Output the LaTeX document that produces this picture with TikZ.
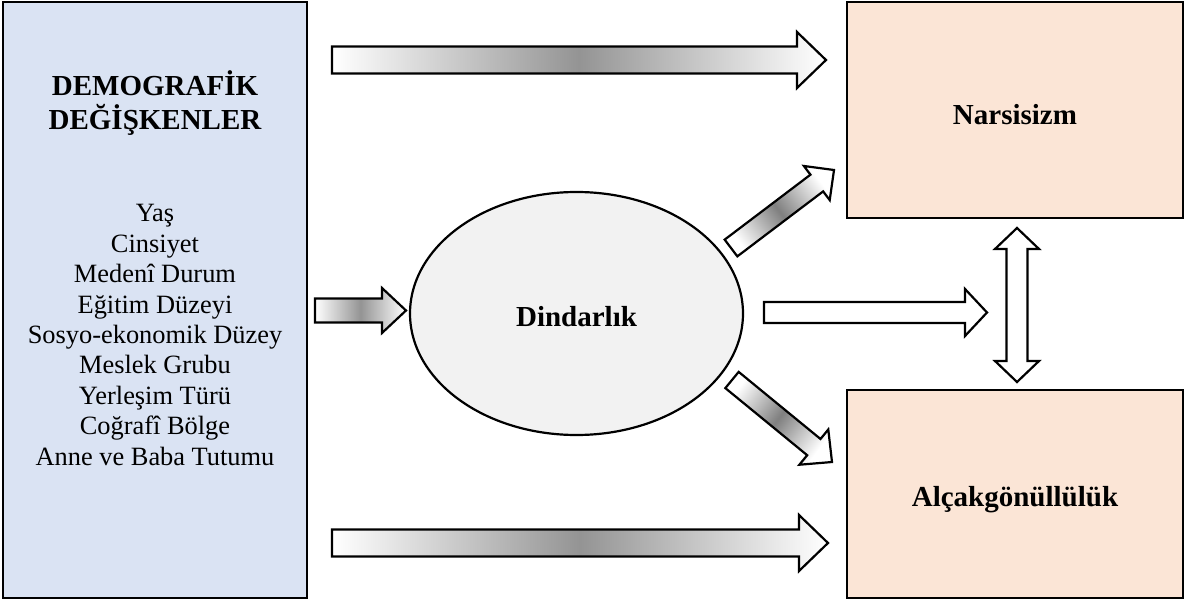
\documentclass[tikz,border=0pt]{standalone}
\usepackage{fontspec}
\setmainfont{Liberation Serif}
\usetikzlibrary{calc,shapes.geometric}
\definecolor{demoblue}{HTML}{DAE3F3}
\definecolor{peach}{HTML}{FBE5D6}
\definecolor{ellgray}{HTML}{F2F2F2}
% block arrow: #1 style, #2 tail, #3 tip, #4 half body, #5 half head, #6 head length
\newcommand\blkarrow[6]{%
  \coordinate (ba) at ($(#3)!#6!(#2)$);
  \path[#1] ($(#2)!#4!90:(#3)$) -- ($(ba)!#4!90:(#3)$) -- ($(ba)!#5!90:(#3)$) -- (#3)
    -- ($(ba)!#5!-90:(#3)$) -- ($(ba)!#4!-90:(#3)$) -- ($(#2)!#4!-90:(#3)$) -- cycle;}
% double block arrow: #1 style, #2 tip A, #3 tip B, #4 half body, #5 half head, #6 head length
\newcommand\dblarrow[6]{%
  \coordinate (bA) at ($(#2)!#6!(#3)$);
  \coordinate (bB) at ($(#3)!#6!(#2)$);
  \path[#1] (#2) -- ($(bA)!#5!90:(#2)$) -- ($(bA)!#4!90:(#2)$) -- ($(bB)!#4!-90:(#3)$)
    -- ($(bB)!#5!-90:(#3)$) -- (#3) -- ($(bB)!#5!90:(#3)$) -- ($(bB)!#4!90:(#3)$)
    -- ($(bA)!#4!-90:(#2)$) -- ($(bA)!#5!-90:(#2)$) -- cycle;}
\tikzset{
  box/.style={draw=black, line width=1.1pt, rectangle, inner sep=0pt},
  boldlab/.style={font=\fontsize{14.5}{17}\selectfont\bfseries},
  listlab/.style={font=\fontsize{13.2}{15.2}\selectfont},
  arrowline/.style={draw=black, line width=1.1pt, line join=miter},
  gradh/.style={arrowline, left color=white, right color=white, middle color=black!42},
  gradup/.style={arrowline, left color=white, right color=white, middle color=black!50, shading angle=-53},
  graddown/.style={arrowline, left color=white, right color=white, middle color=black!50, shading angle=53},
  plainarrow/.style={arrowline, fill=white}
}
\begin{document}
\begin{tikzpicture}[x=0.5pt, y=-0.5pt]
\useasboundingbox (0,0) rectangle (1188,604);
% boxes
\node[box, fill=demoblue, minimum width=152pt, minimum height=298pt] (demo) at (155,300) {};
\node[boldlab, align=center, anchor=base] (title) at (155,130) {DEMOGRAFİK\\DEĞİŞKENLER};
\node[listlab, align=center, anchor=base] (vars) at (155,465) {Yaş\\Cinsiyet\\Medenî Durum\\Eğitim Düzeyi\\Sosyo-ekonomik Düzey\\Meslek Grubu\\Yerleşim Türü\\Coğrafî Bölge\\Anne ve Baba Tutumu};
\node[box, fill=peach, minimum width=168pt, minimum height=108pt, boldlab, text height=15pt, text depth=0pt] (narc) at (1015,110) {Narsisizm};
\node[box, fill=peach, minimum width=168pt, minimum height=104pt, boldlab, text height=12pt, text depth=0pt] (alcak) at (1015,494) {Alçakgönüllülük};
\node[draw=black, line width=1.1pt, ellipse, fill=ellgray, inner sep=0pt, minimum width=166.5pt, minimum height=121.5pt, boldlab, text height=12.5pt, text depth=0pt] (din) at (576.5,313.5) {Dindarlık};
% arrow end points
\coordinate (t1) at (332,60);   \coordinate (h1) at (826,60);
\coordinate (t2) at (332,543);  \coordinate (h2) at (828,543);
\coordinate (t3) at (315,310.5);\coordinate (h3) at (406,310.5);
\coordinate (t4) at (764,312.5);\coordinate (h4) at (987,312.5);
\coordinate (t5) at (731,248);  \coordinate (h5) at (834,170);
\coordinate (t6) at (732,380);  \coordinate (h6) at (832,462);
\coordinate (d1) at (1017,228); \coordinate (d2) at (1017,382);
% arrows
\blkarrow{gradh}{t1}{h1}{6.75pt}{14pt}{14.5pt}
\blkarrow{gradh}{t2}{h2}{6.75pt}{14pt}{14.5pt}
\blkarrow{gradh}{t3}{h3}{6pt}{11.25pt}{12pt}
\blkarrow{plainarrow}{t4}{h4}{5.25pt}{11.75pt}{11pt}
\blkarrow{gradup}{t5}{h5}{5.25pt}{10.7pt}{10.8pt}
\blkarrow{graddown}{t6}{h6}{5.25pt}{11.4pt}{11.75pt}
\dblarrow{plainarrow}{d1}{d2}{5.25pt}{11pt}{10.5pt}
\end{tikzpicture}
\end{document}
